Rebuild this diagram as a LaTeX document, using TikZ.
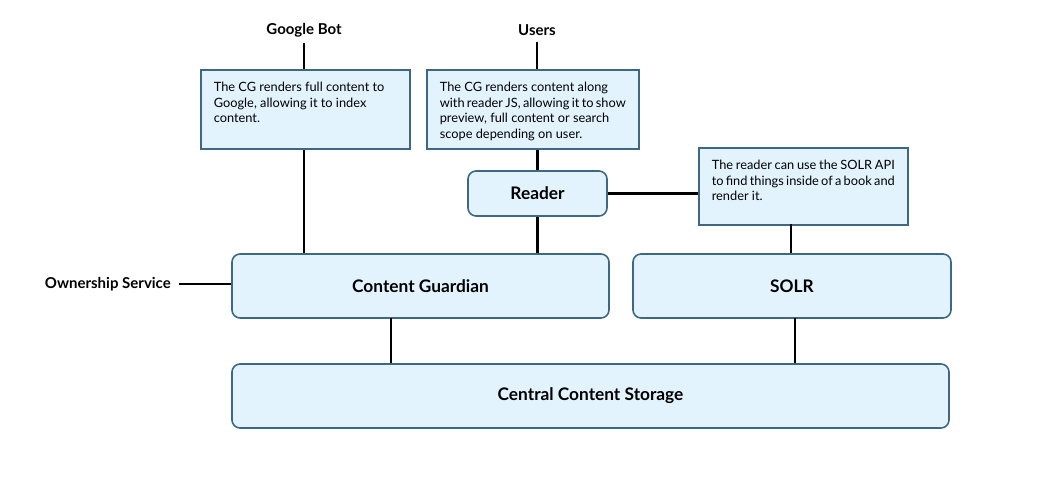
\documentclass[tikz,border=0pt]{standalone}
\usepackage{fontspec}
\setmainfont{Lato}
\usetikzlibrary{positioning}
\definecolor{boxfill}{HTML}{E2F3FE}
\definecolor{boxline}{HTML}{3D6884}
\hfuzz=40pt

\begin{document}
\begin{tikzpicture}[x=1pt,y=-1pt]
    % Setup the styles for the boxes
        \tikzset{comp style/.style={draw=boxline,
                                    fill=boxfill,
                                    line width=1.6pt,
                                    rounded corners=8pt,
                                    inner sep=0pt,
                                    font=\fontsize{17.3}{20}\selectfont\bfseries},
                 note style/.style={draw=boxline,
                                    fill=boxfill,
                                    line width=1.6pt,
                                    inner xsep=13pt,
                                    inner ysep=12pt,
                                    font=\fontsize{12.8}{15.8}\selectfont},
                 actor style/.style={font=\fontsize{15}{18}\selectfont\bfseries,
                                    inner xsep=4pt,
                                    inner ysep=6pt}}
        \useasboundingbox (0,0) rectangle (1039,480);
        % Draw the outside actors
        \node[actor style] at (304,30)  (gbot)  {Google Bot};
        \node[actor style] at (537,30)  (users) {Users};
        \node[actor style, anchor=east, inner xsep=8pt] at (179,284) (owner) {Ownership Service};
        % Draw the notes
        \node[note style, anchor=north west] at (200,69) (gnote)
            {\parbox[t][55pt][t]{183pt}{The CG renders full content to\\ Google, allowing it to index\\ content.}};
        \node[note style, anchor=north west] at (426,69) (unote)
            {\parbox[t][55pt][t]{186pt}{The CG renders content along\\ with reader JS, allowing it to show\\ preview, full content or search\\ scope depending on user.}};
        \node[note style, anchor=north west] at (698,147) (snote)
            {\parbox[t][53pt][t]{183pt}{The reader can use the SOLR API\\ to find things inside of a book and\\ render it.}};
        % Draw the components
        \node[comp style, minimum width=139pt, minimum height=45pt] at (537.5,193.5) (reader) {Reader};
        \node[comp style, minimum width=377pt, minimum height=64pt] at (420.5,286) (cg) {Content Guardian};
        \node[comp style, minimum width=318pt, minimum height=64pt] at (792,286) (solr) {SOLR};
        \node[comp style, minimum width=717pt, minimum height=64pt] at (590.5,396) (ccs) {Central Content Storage};
        % Points where the links leave the boxes
        \coordinate (solrup)   at (791,224);
        \coordinate (cgdown)   at (391,318);
        \coordinate (solrdown) at (795,318);
        % Connect the boxes with lines
        \draw[line width=2.6pt, black]
            (gbot)   edge (gnote.north -| gbot)
            (gnote.south -| gbot)   edge (cg.north -| gbot)
            (users)   edge (unote.north -| users)
            (unote.south -| reader)   edge (reader.north)
            (reader.south)   edge (reader.south |- cg.north)
            (reader.east)   edge (reader.east -| snote.west)
            (solrup)   edge (solrup |- solr.north)
            (owner.east)   edge (owner.east -| cg.west)
            (cgdown)   edge (cgdown |- ccs.north)
            (solrdown)   edge (solrdown |- ccs.north);
\end{tikzpicture}
\end{document}
